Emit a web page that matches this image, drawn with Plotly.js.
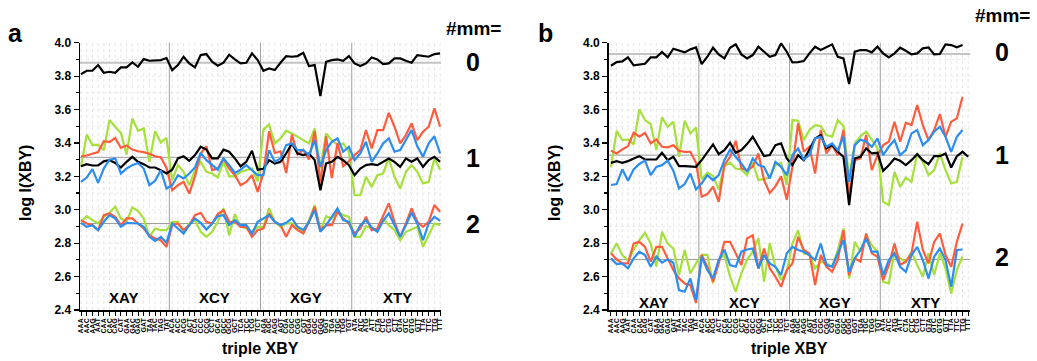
<!DOCTYPE html>
<html><head><meta charset="utf-8">
<script src="https://cdn.plot.ly/plotly-3.0.1.min.js"></script>
<style>html,body{margin:0;padding:0;background:#fff}#chart{width:1037px;height:361px}</style>
</head><body><div id="chart"></div><script>
const categories = [
 'AAA','AAC','AAG','AAT','CAA','CAC','CAG','CAT','GAA','GAC','GAG','GAT','TAA','TAC','TAG','TAT',
 'ACA','ACC','ACG','ACT','CCA','CCC','CCG','CCT','GCA','GCC','GCG','GCT','TCA','TCC','TCG','TCT',
 'AGA','AGC','AGG','AGT','CGA','CGC','CGG','CGT','GGA','GGC','GGG','GGT','TGA','TGC','TGG','TGT',
 'ATA','ATC','ATG','ATT','CTA','CTC','CTG','CTT','GTA','GTC','GTG','GTT','TTA','TTC','TTG','TTT'];
const groupLabels = ['XAY','XCY','XGY','XTY'];
const groupCenters = [7.5, 23.5, 39.5, 55.5];
const groupDividers = [15.5, 31.5, 47.5];
const mmLabels = ['0','1','2'];

// panel a
const aTop = [3.812,3.832,3.832,3.866,3.82,3.826,3.82,3.852,3.852,3.882,3.856,3.902,3.892,3.892,3.896,3.908,
 3.836,3.866,3.916,3.876,3.852,3.926,3.932,3.886,3.862,3.88,3.928,3.90,3.876,3.88,3.936,3.896,
 3.832,3.846,3.836,3.88,3.92,3.916,3.92,3.94,3.86,3.866,3.68,3.886,3.896,3.90,3.892,3.92,
 3.876,3.86,3.876,3.912,3.90,3.872,3.876,3.906,3.906,3.892,3.88,3.926,3.92,3.916,3.932,3.936];
const aMidBlack = [3.26,3.273,3.265,3.265,3.29,3.297,3.28,3.253,3.287,3.317,3.287,3.273,3.253,3.253,3.237,3.217,
 3.24,3.307,3.32,3.293,3.327,3.377,3.36,3.307,3.307,3.36,3.347,3.307,3.26,3.287,3.353,3.24,
 3.245,3.297,3.277,3.287,3.337,3.397,3.337,3.327,3.337,3.297,3.117,3.277,3.287,3.317,3.297,3.267,
 3.207,3.247,3.267,3.273,3.267,3.287,3.307,3.287,3.257,3.307,3.287,3.307,3.257,3.297,3.317,3.287];
const aMidGreen = [3.257,3.45,3.387,3.39,3.357,3.537,3.497,3.46,3.33,3.547,3.473,3.487,3.287,3.47,3.403,3.43,
 3.177,3.267,3.227,3.147,3.237,3.287,3.227,3.217,3.193,3.287,3.2,3.2,3.227,3.237,3.247,3.17,
 3.48,3.51,3.397,3.427,3.473,3.457,3.437,3.417,3.397,3.487,3.247,3.457,3.417,3.387,3.397,3.347,
 3.087,3.087,3.197,3.137,3.207,3.217,3.307,3.197,3.127,3.227,3.267,3.227,3.157,3.167,3.307,3.24];
const aMidRed = [3.32,3.325,3.335,3.345,3.41,3.405,3.43,3.37,3.385,3.36,3.35,3.345,3.335,3.32,3.315,3.25,
 3.117,3.147,3.167,3.097,3.2,3.337,3.38,3.237,3.247,3.307,3.247,3.207,3.147,3.167,3.207,3.107,
 3.22,3.47,3.34,3.35,3.22,3.45,3.33,3.36,3.30,3.47,3.16,3.44,3.19,3.40,3.26,3.29,
 3.327,3.357,3.477,3.367,3.477,3.477,3.58,3.497,3.397,3.447,3.517,3.417,3.467,3.497,3.607,3.497];
const aMidBlue = [3.167,3.193,3.243,3.161,3.247,3.30,3.307,3.217,3.247,3.267,3.28,3.247,3.147,3.173,3.237,3.127,
 3.147,3.207,3.187,3.217,3.253,3.34,3.297,3.267,3.24,3.307,3.267,3.22,3.24,3.267,3.237,3.207,
 3.207,3.357,3.287,3.307,3.387,3.397,3.357,3.357,3.327,3.417,3.257,3.357,3.407,3.427,3.347,3.377,
 3.297,3.337,3.407,3.287,3.337,3.397,3.427,3.347,3.357,3.417,3.477,3.38,3.317,3.397,3.44,3.337];
const aLowRed = [2.938,2.918,2.908,2.878,2.968,2.978,2.958,2.908,2.948,2.948,2.918,2.888,2.848,2.828,2.818,2.778,
 2.908,2.918,2.878,2.908,2.968,2.982,2.928,2.918,2.974,2.998,2.928,2.928,2.898,2.898,2.838,2.878,
 2.888,2.978,2.928,2.908,2.838,2.908,2.878,2.858,2.928,3.018,2.878,2.908,2.908,2.988,2.948,2.918,
 2.858,2.888,2.958,2.878,2.888,2.968,3.038,2.928,2.838,2.918,3.008,2.928,2.898,2.928,3.028,2.988];
const aLowGreen = [2.928,2.962,2.938,2.918,2.958,2.982,3.018,2.948,2.928,3.014,2.994,2.948,2.838,2.888,2.878,2.878,
 2.928,2.928,2.868,2.918,2.938,2.868,2.838,2.868,2.928,3.008,2.848,2.974,2.898,2.888,2.858,2.898,
 2.898,3.008,2.928,2.898,2.918,2.918,2.888,2.862,2.938,3.028,2.878,2.962,2.948,2.988,2.968,2.958,
 2.838,2.838,2.902,2.888,2.878,2.948,2.908,2.878,2.818,2.868,2.882,2.898,2.778,2.848,2.918,2.908];
const aLowBlue = [2.922,2.898,2.908,2.878,2.928,2.968,2.948,2.898,2.922,2.918,2.918,2.898,2.838,2.814,2.838,2.802,
 2.918,2.888,2.858,2.908,2.948,2.922,2.882,2.918,2.962,2.968,2.908,2.938,2.908,2.908,2.858,2.928,
 2.948,2.968,2.928,2.908,2.922,2.948,2.898,2.878,2.928,2.998,2.868,2.908,2.958,3.008,2.938,2.928,
 2.838,2.908,2.938,2.894,2.868,2.934,2.978,2.908,2.838,2.908,2.982,2.918,2.818,2.918,2.958,2.934];
const aRefLines = [3.88, 3.314, 2.918];

// panel b
const bTop = [3.862,3.884,3.888,3.912,3.864,3.868,3.874,3.912,3.912,3.944,3.912,3.964,3.952,3.942,3.96,3.972,
 3.872,3.916,3.97,3.93,3.906,3.97,3.99,3.93,3.906,3.926,3.976,3.946,3.916,3.926,3.996,3.946,
 3.882,3.884,3.89,3.936,3.976,3.956,3.972,3.99,3.916,3.906,3.752,3.946,3.956,3.956,3.942,3.976,
 3.936,3.912,3.936,3.97,3.952,3.93,3.936,3.966,3.972,3.93,3.932,3.99,3.986,3.972,3.986,null];
const bMidBlack = [3.281,3.291,3.281,3.291,3.307,3.321,3.301,3.301,3.301,3.341,3.297,3.317,3.261,3.261,3.261,3.257,
 3.297,3.347,3.391,3.333,3.357,3.401,3.341,3.357,3.393,3.437,3.381,3.321,3.327,3.387,3.397,3.307,
 3.267,3.327,3.297,3.367,3.427,3.447,3.367,3.387,3.347,3.317,3.028,3.307,3.317,3.367,3.337,3.341,
 3.233,3.267,3.307,3.293,3.267,3.297,3.333,3.297,3.273,3.321,3.321,3.337,3.253,3.321,3.347,3.317];
const bMidGreen = [3.254,3.473,3.417,3.421,3.391,3.6,3.537,3.513,3.357,3.553,3.497,3.527,3.317,3.533,3.457,3.493,
 3.182,3.222,3.202,3.122,3.262,3.282,3.247,3.241,3.207,3.282,3.177,3.187,3.193,3.267,3.28,3.148,
 3.537,3.533,3.417,3.477,3.507,3.501,3.447,3.437,3.537,3.501,3.187,3.397,3.441,3.467,3.421,3.367,
 3.048,3.028,3.227,3.137,3.193,3.167,3.337,3.287,3.207,3.237,3.337,3.237,3.157,3.167,3.317,null];
const bMidRed = [3.354,3.337,3.361,3.381,3.461,3.437,3.461,3.397,3.421,3.377,3.373,3.387,3.353,3.347,3.347,3.281,
 3.078,3.094,3.138,3.048,3.267,3.317,3.413,3.247,3.237,3.257,3.337,3.177,3.10,3.14,3.20,3.06,
 3.257,3.517,3.347,3.377,3.217,3.477,3.337,3.387,3.327,3.477,3.078,3.297,3.307,3.447,3.237,3.327,
 3.387,3.407,3.527,3.407,3.521,3.507,3.627,3.507,3.417,3.477,3.573,3.437,3.527,3.547,3.677,null];
const bMidBlue = [3.148,3.154,3.242,3.174,3.242,3.274,3.294,3.207,3.257,3.267,3.294,3.234,3.128,3.154,3.217,3.122,
 3.158,3.207,3.177,3.207,3.297,3.361,3.317,3.277,3.227,3.307,3.267,3.257,3.187,3.287,3.257,3.207,
 3.327,3.367,3.301,3.327,3.427,3.437,3.377,3.397,3.357,3.437,3.167,3.387,3.421,3.407,3.377,3.427,
 3.327,3.377,3.417,3.327,3.357,3.457,3.477,3.387,3.417,3.467,3.497,3.437,3.347,3.437,3.477,null];
const bLowRed = [2.739,2.703,2.679,2.679,2.798,2.808,2.778,2.689,2.778,2.778,2.709,2.639,2.589,2.559,2.549,2.443,
 2.729,2.659,2.569,2.679,2.808,2.808,2.739,2.669,2.828,2.848,2.649,2.768,2.649,2.599,2.539,2.639,
 2.679,2.838,2.759,2.739,2.549,2.729,2.659,2.629,2.699,2.878,2.609,2.709,2.689,2.858,2.739,2.719,
 2.579,2.669,2.798,2.669,2.689,2.739,2.928,2.759,2.679,2.808,2.858,2.729,2.659,2.808,2.918,null];
const bLowGreen = [2.739,2.798,2.729,2.695,2.759,2.818,2.862,2.798,2.66,2.868,2.798,2.768,2.609,2.759,2.619,2.68,
 2.73,2.73,2.56,2.70,2.73,2.60,2.51,2.62,2.70,2.75,2.83,2.57,2.80,2.66,2.58,2.63,
 2.798,2.878,2.739,2.729,2.649,2.689,2.679,2.659,2.759,2.888,2.589,2.808,2.749,2.848,2.788,2.749,
 2.569,2.559,2.749,2.709,2.689,2.749,2.669,2.599,2.739,2.609,2.739,2.649,2.499,2.639,2.72,null];
const bLowBlue = [2.709,2.675,2.679,2.649,2.709,2.749,2.729,2.659,2.719,2.683,2.703,2.683,2.519,2.509,2.589,2.459,
 2.719,2.639,2.589,2.699,2.762,2.669,2.659,2.749,2.762,2.768,2.649,2.729,2.679,2.659,2.609,2.739,
 2.778,2.759,2.749,2.729,2.699,2.798,2.669,2.659,2.739,2.818,2.629,2.709,2.759,2.828,2.749,2.749,
 2.609,2.699,2.739,2.659,2.629,2.729,2.778,2.699,2.589,2.719,2.768,2.699,2.539,2.759,2.762,null];
const bRefLines = [3.932, 3.327, 2.703];

const FONT = 'Arial, "Liberation Sans", sans-serif';
const C = {black:'#000000', red:'#ff5c3e', green:'#a6e03a', blue:'#2b8def'};
const W = 1037, H = 361;

function tr(y, color, xa, ya) {
  return {type:'scatter', mode:'lines', x: categories, y: y, xaxis: xa, yaxis: ya,
    line:{color: color, width: 2.2}, hoverinfo:'skip', showlegend:false, connectgaps:false};
}
const data = [
  tr(aMidGreen, C.green, 'x', 'y'), tr(aMidRed, C.red, 'x', 'y'), tr(aMidBlack, C.black, 'x', 'y'), tr(aMidBlue, C.blue, 'x', 'y'),
  tr(aLowGreen, C.green, 'x', 'y'), tr(aLowRed, C.red, 'x', 'y'), tr(aLowBlue, C.blue, 'x', 'y'), tr(aTop, C.black, 'x', 'y'),
  tr(bMidGreen, C.green, 'x2', 'y2'), tr(bMidRed, C.red, 'x2', 'y2'), tr(bMidBlack, C.black, 'x2', 'y2'), tr(bMidBlue, C.blue, 'x2', 'y2'),
  tr(bLowGreen, C.green, 'x2', 'y2'), tr(bLowRed, C.red, 'x2', 'y2'), tr(bLowBlue, C.blue, 'x2', 'y2'), tr(bTop, C.black, 'x2', 'y2')
];

const yDom = [1 - 310/H, 1 - 42.7/H];
function xAxis(domain, range, anchor) {
  return {domain: domain, range: range, type:'category', categoryorder:'array', categoryarray: categories,
    tickmode:'linear', tick0:0, dtick:1, ticks:'outside', ticklen:4, tickwidth:1, tickcolor:'#000',
    tickangle:-90, tickfont:{family:FONT, size:7, color:'#000', weight:'bold'},
    showline:true, linecolor:'#000', linewidth:1.5, showgrid:false,
    zeroline:false, anchor: anchor, fixedrange:true, automargin:false};
}
function yAxis(anchor) {
  return {domain: yDom, range:[2.4, 4.0], tick0:2.4, dtick:0.2, tickformat:'.1f', ticks:'outside', ticklen:5, tickwidth:1.2,
    tickcolor:'#000', tickfont:{family:FONT, size:12, color:'#000', weight:'bold'},
    minor:{dtick:0.1, ticks:'outside', ticklen:3, tickcolor:'#000', showgrid:false},
    showline:true, linecolor:'#000', linewidth:1.5, showgrid:false,
    zeroline:false, anchor: anchor, fixedrange:true, automargin:false};
}

const shapes = [];
[['x','y', aRefLines], ['x2','y2', bRefLines]].forEach(([xa, ya, refs]) => {
  // faint dotted background grid
  categories.forEach((c, i) => shapes.push({type:'line', xref: xa, yref: ya + ' domain', x0: i, x1: i, y0: 0, y1: 1,
    line:{color:'#e6e6e6', width:1, dash:'dot'}, layer:'below'}));
  for (let k = 1; k < 16; k++) {
    const v = 2.4 + k * 0.1;
    shapes.push({type:'line', xref: xa + ' domain', yref: ya, x0: 0, x1: 1, y0: v, y1: v,
      line:{color:'#e9e9e9', width:1, dash:'dot'}, layer:'below'});
  }
  groupDividers.forEach(d => shapes.push({type:'line', xref: xa, yref: ya + ' domain', x0: d, x1: d, y0: 0, y1: 1,
    line:{color:'#a0a0a0', width:1}, layer:'below'}));
  refs.forEach((v, i) => shapes.push({type:'line', xref: xa + ' domain', yref: ya, x0: 0, x1: 1, y0: v, y1: v,
    line:{color: i === 0 ? '#c4c4c4' : '#9a9a9a', width: i === 0 ? 2 : 1}, layer:'below'}));
});

function txt(text, px, py, size, extra) {
  return Object.assign({text: text, x: px / W, y: 1 - py / H, xref:'paper', yref:'paper', showarrow:false,
    xanchor:'center', yanchor:'middle', font:{family:FONT, size: size, color:'#000', weight:'bold'}}, extra || {});
}
const annotations = [
  txt('a', 15, 33, 25), txt('b', 545, 33, 25),
  txt('#mm=', 473, 28, 19), txt('#mm=', 1002, 15, 19),
  txt(mmLabels[0], 473, 62, 25), txt(mmLabels[1], 473, 158, 25), txt(mmLabels[2], 473, 224, 25),
  txt(mmLabels[0], 1002, 52, 25), txt(mmLabels[1], 1002, 155, 25), txt(mmLabels[2], 1002, 257, 25),
  txt('log I(XBY)', 25, 183, 16, {textangle:-90}), txt('log i(XBY)', 554, 183, 16, {textangle:-90}),
  txt('triple XBY', 260, 348, 16), txt('triple XBY', 789, 348, 16)
];
groupLabels.forEach((g, i) => {
  annotations.push({text: g, x: groupCenters[i], xref:'x', y: 1 - 297/H, yref:'paper', showarrow:false,
    xanchor:'center', yanchor:'middle', font:{family:FONT, size:15, color:'#000', weight:'bold'}});
  annotations.push({text: g, x: groupCenters[i], xref:'x2', y: 1 - 302/H, yref:'paper', showarrow:false,
    xanchor:'center', yanchor:'middle', font:{family:FONT, size:15, color:'#000', weight:'bold'}});
});

const layout = {
  width: W, height: H, margin:{l:0, r:0, t:0, b:0}, paper_bgcolor:'#fff', plot_bgcolor:'#fff',
  showlegend:false,
  xaxis: xAxis([80/W, 441/W], [-0.175, 63.16], 'y'),
  yaxis: yAxis('x'),
  xaxis2: xAxis([608.7/W, 970.3/W], [-0.4, 63.37], 'y2'),
  yaxis2: yAxis('x2'),
  shapes: shapes, annotations: annotations
};
Plotly.newPlot('chart', data, layout, {staticPlot:true, displayModeBar:false});
</script></body></html>
